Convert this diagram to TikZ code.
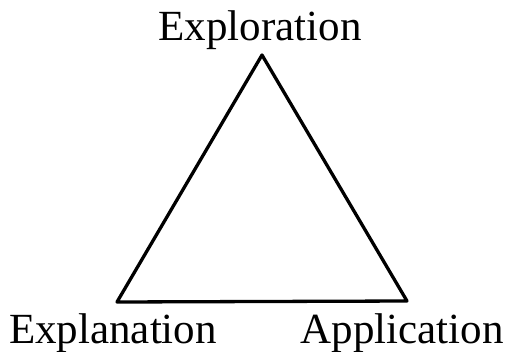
\documentclass[tikz,border=0pt]{standalone}
\usepackage{fontspec}
\setmainfont{Liberation Serif}
\usetikzlibrary{positioning}
\tikzset{
    corner_label/.style={inner sep=0pt, anchor=base, font=\fontsize{43}{48}\selectfont},
    edge/.style={draw, line width=3.3pt, line join=round, line cap=round}
}
\begin{document}
\begin{tikzpicture}[x=1pt, y=-1pt]
			\useasboundingbox (0,0) rectangle (511,351);
			\coordinate (top) at (262,55);
			\coordinate (left) at (117,302);
			\coordinate (right) at (407,301);
			
			\node (explo) [corner_label] at (260,40) {Exploration};
			\node (expla) [corner_label] at (113,343) {Explanation};
			\node (appl) [corner_label] at (402,343) {Application};
			
			\draw [edge] (top) -- (left) -- (right) -- cycle;
		\end{tikzpicture}
\end{document}
